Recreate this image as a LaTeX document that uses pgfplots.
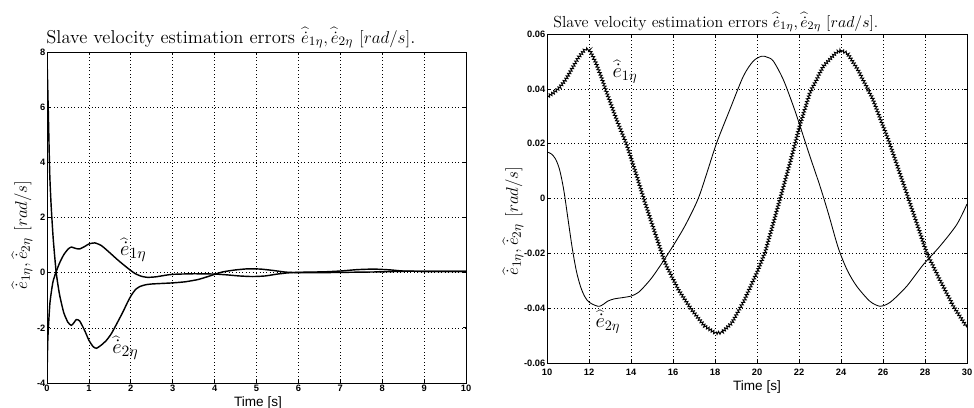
\documentclass[border=0pt]{standalone}
\usepackage{fontspec}
\setsansfont{Liberation Sans}
\usepackage{pgfplots}
\pgfplotsset{compat=1.18}
\usetikzlibrary{decorations.pathmorphing}

\pgfplotsset{matstyle/.style={
  scale only axis,
  axis line style={line width=0.7pt, black},
  grid=major,
  grid style={dotted, line width=0.45pt, black},
  tick align=inside,
  major tick length=2pt,
  tick style={black, line width=0.5pt},
  tick label style={font=\fontsize{6.5}{7}\selectfont\sffamily\bfseries},
  /pgf/number format/assume math mode=true,
  xticklabel style={inner sep=0.5pt},
  yticklabel style={inner sep=1pt},
}}

\begin{document}
\begin{tikzpicture}
\path[use as bounding box] (0pt,0pt) rectangle (681.8pt,-284.9pt);

% ---------------- left panel ----------------
\begin{axis}[matstyle,
  at={(32.9pt,-268.1pt)}, anchor=south west,
  width=293.3pt, height=231.7pt,
  xmin=0, xmax=10, ymin=-4, ymax=8,
  xtick={0,1,...,10}, ytick={-4,-2,0,2,4,6,8},
  xticklabel style={yshift=-0.5pt},
]
% e1 (upper after transient)
\addplot[black, line width=1pt, smooth, tension=0.35] coordinates {
(0,-3.8) (0.02,-2.4) (0.07,-1.1) (0.14,-0.35) (0.21,0) (0.3,0.35) (0.4,0.65)
(0.5,0.85) (0.58,0.93) (0.68,0.88) (0.78,0.86) (0.9,0.95) (1.0,1.04)
(1.14,1.08) (1.3,0.98) (1.5,0.72) (1.66,0.5) (1.8,0.32) (1.98,0.1)
(2.1,-0.03) (2.25,-0.13) (2.4,-0.17) (2.6,-0.15) (2.8,-0.1) (3.0,-0.06)
(3.5,-0.04) (4.0,-0.05) (4.3,-0.08) (4.6,-0.12) (4.9,-0.14) (5.2,-0.12)
(5.5,-0.05) (5.8,0.0) (6.2,0.02) (6.6,0.03) (7.0,0.06) (7.4,0.11)
(7.8,0.13) (8.2,0.1) (8.5,0.06) (9.0,0.05) (10,0.05)
};
% e2 (spike, lower after transient)
\addplot[black, line width=1pt, smooth, tension=0.35] coordinates {
(0,7.8) (0.03,5.9) (0.065,3.6) (0.1,2.4) (0.15,1.2) (0.22,0) (0.3,-0.8)
(0.4,-1.45) (0.5,-1.8) (0.58,-1.91) (0.64,-1.82) (0.7,-1.70) (0.78,-1.75)
(0.9,-2.1) (1.0,-2.45) (1.1,-2.68) (1.18,-2.74) (1.3,-2.62) (1.42,-2.45)
(1.54,-2.2) (1.7,-1.75) (1.82,-1.4) (1.92,-1.08) (2.02,-0.8) (2.12,-0.6)
(2.22,-0.5) (2.35,-0.44) (2.5,-0.41) (3.0,-0.37) (3.3,-0.33) (3.6,-0.25)
(3.8,-0.16) (4.0,-0.06) (4.2,0.03) (4.5,0.1) (4.8,0.14) (5.1,0.13)
(5.4,0.08) (5.7,0.02) (6.0,0.0) (6.5,0.0) (7.0,0.01) (7.5,0.02)
(8.0,0.03) (8.5,0.05) (9.0,0.05) (10,0.05)
};
\node at (axis cs:2.06,0.83) {\fontsize{15}{17}\selectfont $\widehat{\dot{e}}_{1\eta}$};
\node at (axis cs:1.87,-2.73) {\fontsize{15}{17}\selectfont $\widehat{\dot{e}}_{2\eta}$};
\end{axis}

% ---------------- right panel ----------------
\begin{axis}[matstyle,
  at={(382.9pt,-254.1pt)}, anchor=south west,
  width=294pt, height=230.3pt,
  xmin=10, xmax=30, ymin=-0.06, ymax=0.06,
  disabledatascaling,
  xtick={10,12,...,30}, ytick={-0.06,-0.04,-0.02,0,0.02,0.04,0.06},
  scaled y ticks=false,
  yticklabel style={/pgf/number format/fixed, /pgf/number format/precision=2},
  xticklabel style={yshift=-3.5pt},
]
% e1 with chattering
\addplot[black, line width=0.7pt,
  decorate, decoration={zigzag, segment length=2pt, amplitude=1pt}] coordinates {
(10.0,0.0370) (10.3,0.0385) (10.6,0.0405) (10.9,0.0435) (11.2,0.0475)
(11.5,0.0515) (11.8,0.0543) (12.0,0.0545) (12.3,0.0500) (12.6,0.0440)
(12.8,0.0395) (13.3,0.0290) (13.8,0.0195) (14.2,0.0100) (14.67,-0.0016)
(15.14,-0.0125) (15.62,-0.0235) (16.25,-0.0332) (16.88,-0.0405) (17.5,-0.0465)
(18.0,-0.0490) (18.3,-0.0490) (18.8,-0.0454) (19.4,-0.0370) (20.06,-0.0259)
(20.4,-0.0192) (21.0,-0.0028) (21.57,0.0130) (22.05,0.0270) (22.52,0.0386)
(23.16,0.0483) (23.8,0.0535) (24.0,0.0540) (24.3,0.0530) (24.8,0.0470)
(25.5,0.0365) (26.3,0.0205) (27.1,0.0025) (27.6,-0.0089) (28.08,-0.0198)
(28.7,-0.0296) (29.35,-0.0393) (30.0,-0.0470)
};
% e2 smooth
\addplot[black, line width=0.6pt, smooth, tension=0.5] coordinates {
(10.0,0.0170) (10.2,0.0163) (10.4,0.0145) (10.6,0.0105) (10.8,0.0030)
(11.0,-0.0075) (11.2,-0.0180) (11.4,-0.0265) (11.6,-0.0322)
(11.8,-0.0358) (12.0,-0.0378) (12.3,-0.0390) (12.5,-0.0393) (12.7,-0.0385)
(12.9,-0.0374) (13.2,-0.0366) (13.55,-0.0362) (14.0,-0.0356) (14.3,-0.0345)
(14.5,-0.0332) (14.98,-0.0290) (15.53,-0.0229) (16.09,-0.0162) (16.56,-0.0101)
(17.04,-0.0028) (17.3,0.0020) (17.6,0.0090) (18.08,0.0203) (18.71,0.0325)
(19.35,0.0446) (19.82,0.0501) (20.22,0.0519) (20.5,0.0515) (20.78,0.0501)
(21.25,0.0434) (21.73,0.0337) (22.05,0.0264) (22.52,0.0154) (23.0,0.0045)
(23.4,-0.0055) (23.87,-0.0180) (24.3,-0.0262) (24.75,-0.0320) (25.38,-0.0375)
(25.86,-0.0393) (26.2,-0.0385) (26.49,-0.0369) (27.13,-0.0320) (27.92,-0.0241)
(28.71,-0.0174) (29.51,-0.0095) (30.0,-0.0020)
};
\node at (axis cs:13.71,0.0463) {\fontsize{14}{16}\selectfont $\widehat{\dot{e}}_{1\eta}$};
\node at (axis cs:12.9,-0.0449) {\fontsize{14}{16}\selectfont $\widehat{\dot{e}}_{2\eta}$};
\end{axis}

% titles
\node[anchor=base] at (161.6pt,-30.1pt) {\fontsize{13}{15}\selectfont Slave velocity estimation errors $\widehat{\dot{e}}_{1\eta},\widehat{\dot{e}}_{2\eta}\ [rad/s]$.};
\node[anchor=base] at (501.1pt,-18.9pt) {\fontsize{11.2}{13}\selectfont Slave velocity estimation errors $\widehat{\dot{e}}_{1\eta},\widehat{\dot{e}}_{2\eta}\ [rad/s]$.};
% y labels
\node[rotate=90] at (15.4pt,-164.5pt) {\fontsize{13}{15}\selectfont $\widehat{\dot{e}}_{1\eta},\widehat{\dot{e}}_{2\eta}\ [rad/s]$};
\node[rotate=90] at (359.1pt,-154.7pt) {\fontsize{13}{15}\selectfont $\widehat{\dot{e}}_{1\eta},\widehat{\dot{e}}_{2\eta}\ [rad/s]$};
% x labels
\node[anchor=base] at (180.6pt,-284.2pt) {\fontsize{9.5}{11}\selectfont\sffamily Time [s]};
\node[anchor=base] at (529.9pt,-273pt) {\fontsize{9.5}{11}\selectfont\sffamily Time [s]};
\end{tikzpicture}
\end{document}
